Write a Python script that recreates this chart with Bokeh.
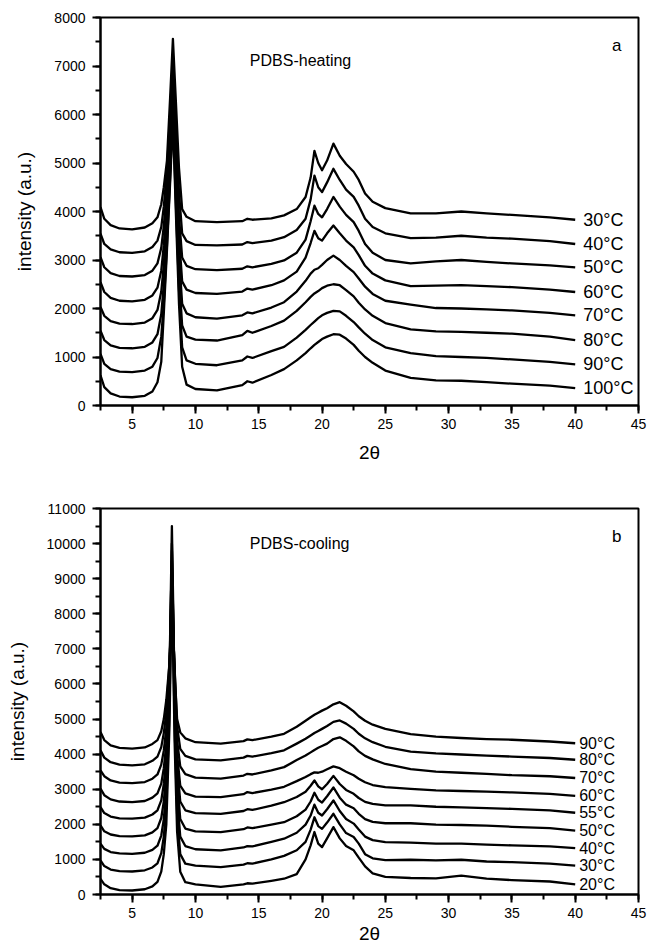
from bokeh.plotting import figure
from bokeh.layouts import column
from bokeh.models import Range1d, SingleIntervalTicker, Label
from bokeh.embed import file_html
from bokeh.resources import INLINE
from bokeh.core.properties import value

FONT = "Liberation Sans"

# ---------------- panel a: PDBS heating ----------------
TWO_THETA_HEAT = [2.5, 2.8, 3.3, 4.0, 5.0, 6.0, 6.6, 7.0, 7.3, 7.5, 7.75, 8.0, 8.22, 8.45, 8.7, 8.95,
                  9.3, 10.0, 11.7, 13.7, 14.1, 14.5, 16.0, 17.0, 18.0, 18.7, 19.1, 19.4, 19.7, 20.0,
                  20.4, 20.9, 21.4, 21.9, 22.5, 22.9, 23.4, 24.0, 25.0, 27.0, 29.0, 31.0, 33.0, 35.0,
                  38.0, 40.0]

HEAT_30C = [4090, 3850, 3720, 3650, 3630, 3670, 3760, 3880, 4150, 4500, 5050, 6350, 7560, 6300, 4900, 4050,
            3890, 3800, 3780, 3800, 3850, 3830, 3860, 3920, 4050, 4300, 4700, 5250, 5000, 4850,
            5050, 5400, 5150, 4980, 4820, 4650, 4370, 4200, 4070, 3960, 3960, 4000, 3960, 3930, 3880, 3830]
HEAT_40C = [3545, 3330, 3220, 3160, 3145, 3180, 3270, 3400, 3680, 4100, 4850, 6000, 7200, 5800, 4400, 3550,
            3390, 3310, 3300, 3320, 3370, 3350, 3400, 3470, 3620, 3850, 4250, 4740, 4500, 4400,
            4600, 4880, 4650, 4450, 4300, 4120, 3850, 3680, 3550, 3450, 3460, 3500, 3460, 3440, 3390, 3330]
HEAT_50C = [3060, 2850, 2730, 2670, 2660, 2690, 2780, 2930, 3250, 3700, 4500, 5700, 6900, 5400, 3900, 3050,
            2880, 2810, 2790, 2820, 2870, 2850, 2920, 2990, 3150, 3420, 3800, 4120, 3950, 3880,
            4050, 4300, 4100, 3930, 3780, 3600, 3330, 3150, 3000, 2930, 2970, 3000, 2960, 2930, 2890, 2850]
HEAT_60C = [2545, 2340, 2220, 2160, 2145, 2180, 2270, 2430, 2780, 3300, 4200, 5400, 6600, 5000, 3500, 2560,
            2390, 2320, 2300, 2350, 2410, 2390, 2480, 2580, 2760, 3050, 3350, 3600, 3450, 3400,
            3550, 3710, 3550, 3400, 3260, 3100, 2880, 2720, 2580, 2460, 2470, 2480, 2460, 2440, 2390, 2340]
HEAT_70C = [2030, 1850, 1740, 1690, 1680, 1710, 1800, 1970, 2350, 2900, 3900, 5100, 6400, 4700, 3100, 2100,
            1900, 1820, 1790, 1860, 1920, 1900, 2020, 2130, 2350, 2570, 2720, 2800, 2830, 2900,
            3000, 3090, 3000, 2880, 2750, 2620, 2450, 2300, 2160, 2080, 2010, 2000, 1980, 1960, 1910, 1860]
HEAT_80C = [1545, 1350, 1240, 1190, 1180, 1210, 1300, 1470, 1880, 2500, 3600, 4900, 6200, 4400, 2700, 1650,
            1420, 1360, 1340, 1450, 1540, 1500, 1640, 1750, 1950, 2130, 2240, 2310, 2360, 2420,
            2470, 2500, 2480, 2380, 2250, 2120, 1980, 1850, 1700, 1570, 1530, 1520, 1500, 1480, 1420, 1350]
HEAT_90C = [1065, 860, 750, 700, 690, 720, 800, 980, 1420, 2100, 3300, 4700, 6050, 4200, 2400, 1200,
            930, 860, 830, 930, 1010, 980, 1120, 1210, 1400, 1560, 1660, 1730, 1800, 1860,
            1910, 1950, 1940, 1850, 1720, 1610, 1480, 1350, 1200, 1080, 1020, 1000, 980, 950, 900, 850]
HEAT_100C = [620, 380, 250, 185, 170, 200, 290, 480, 900, 1900, 3200, 4600, 5900, 4000, 2100, 800,
             430, 340, 310, 420, 500, 470, 630, 750, 930, 1080, 1180, 1250, 1310, 1370,
             1420, 1470, 1460, 1380, 1250, 1130, 1000, 880, 720, 570, 520, 510, 480, 450, 410, 360]

HEAT_LABELS = ["30\u00b0C", "40\u00b0C", "50\u00b0C", "60\u00b0C", "70\u00b0C", "80\u00b0C", "90\u00b0C", "100\u00b0C"]
HEAT_CURVES = [HEAT_30C, HEAT_40C, HEAT_50C, HEAT_60C, HEAT_70C, HEAT_80C, HEAT_90C, HEAT_100C]

# ---------------- panel b: PDBS cooling ----------------
TWO_THETA_COOL = [2.5, 2.8, 3.3, 4.0, 5.0, 6.0, 6.6, 7.0, 7.3, 7.5, 7.7, 7.95, 8.14, 8.35, 8.55, 8.8,
                  9.2, 10.0, 12.0, 13.8, 14.1, 14.5, 16.0, 17.0, 18.0, 18.7, 19.1, 19.4, 19.7, 20.0,
                  20.4, 20.9, 21.4, 21.9, 22.5, 22.9, 23.4, 24.0, 25.0, 27.0, 29.0, 31.0, 33.0, 35.0,
                  38.0, 40.0]

COOL_90C = [4630, 4400, 4250, 4180, 4155, 4190, 4290, 4400, 4650, 5000, 5550, 6600, 7800, 6400, 5000, 4620,
            4450, 4340, 4300, 4370, 4420, 4400, 4500, 4580, 4780, 4950, 5050, 5120, 5180, 5240,
            5310, 5420, 5480, 5380, 5220, 5080, 4950, 4840, 4720, 4570, 4500, 4460, 4430, 4410, 4360, 4310]
COOL_80C = [4107, 3900, 3770, 3700, 3680, 3710, 3810, 3930, 4200, 4600, 5200, 6600, 8300, 6500, 4800, 4150,
            3950, 3850, 3820, 3900, 3950, 3930, 4030, 4110, 4300, 4440, 4530, 4600, 4660, 4720,
            4800, 4920, 4960, 4870, 4720, 4580, 4450, 4340, 4210, 4070, 4020, 3990, 3960, 3930, 3890, 3840]
COOL_70C = [3537, 3370, 3250, 3190, 3175, 3205, 3300, 3420, 3700, 4100, 4750, 6400, 8800, 6300, 4400, 3650,
            3430, 3330, 3300, 3390, 3440, 3420, 3540, 3630, 3830, 3960, 4050, 4120, 4180, 4230,
            4300, 4430, 4480, 4380, 4220, 4080, 3950, 3850, 3720, 3570, 3500, 3470, 3440, 3400, 3370, 3320]
COOL_60C = [3015, 2830, 2710, 2650, 2633, 2665, 2760, 2880, 3160, 3600, 4300, 6300, 9300, 6200, 4000, 3100,
            2880, 2790, 2775, 2860, 2920, 2890, 2990, 3070, 3230, 3350, 3430, 3480, 3470, 3500,
            3570, 3650, 3600, 3500, 3400, 3300, 3200, 3120, 3060, 3010, 2970, 2950, 2930, 2910, 2870, 2810]
COOL_55C = [2490, 2320, 2220, 2170, 2160, 2190, 2280, 2400, 2680, 3150, 3900, 6300, 9800, 6000, 3700, 2650,
            2400, 2320, 2300, 2380, 2430, 2410, 2530, 2630, 2780, 2930, 3100, 3250, 3080, 3000,
            3150, 3380, 3150, 2980, 2870, 2750, 2640, 2580, 2540, 2540, 2500, 2480, 2460, 2440, 2400, 2330]
COOL_50C = [1968, 1800, 1710, 1665, 1655, 1685, 1770, 1890, 2180, 2650, 3500, 6300, 10500, 5900, 3300, 2150,
            1880, 1800, 1780, 1860, 1910, 1890, 1990, 2060, 2230, 2420, 2650, 2900, 2700, 2620,
            2800, 3050, 2760, 2560, 2460, 2300, 2150, 2070, 2030, 2030, 1990, 1980, 1960, 1930, 1890, 1820]
COOL_40C = [1446, 1300, 1210, 1170, 1160, 1190, 1270, 1390, 1680, 2150, 3000, 5800, 10000, 5400, 2800, 1650,
            1380, 1290, 1260, 1340, 1380, 1370, 1500, 1590, 1760, 1990, 2250, 2560, 2330, 2250,
            2430, 2680, 2380, 2150, 2020, 1850, 1650, 1550, 1490, 1480, 1450, 1450, 1420, 1400, 1370, 1320]
COOL_30C = [970, 810, 710, 665, 656, 690, 770, 890, 1180, 1650, 2500, 5300, 9500, 4900, 2300, 1150,
            880, 820, 780, 850, 890, 880, 1000, 1100, 1260, 1500, 1850, 2200, 1950, 1870,
            2050, 2300, 2000, 1750, 1640, 1450, 1150, 1030, 980, 990, 970, 990, 940, 920, 880, 820]
COOL_20C = [448, 290, 180, 125, 114, 150, 230, 360, 650, 1150, 2000, 4800, 9000, 4400, 1800, 650,
            350, 290, 220, 290, 320, 310, 390, 450, 580, 1000, 1400, 1780, 1450, 1350,
            1600, 1920, 1600, 1380, 1260, 1050, 800, 600, 500, 470, 460, 540, 450, 410, 370, 290]

COOL_LABELS = ["90\u00b0C", "80\u00b0C", "70\u00b0C", "60\u00b0C", "55\u00b0C", "50\u00b0C", "40\u00b0C", "30\u00b0C", "20\u00b0C"]
COOL_CURVES = [COOL_90C, COOL_80C, COOL_70C, COOL_60C, COOL_55C, COOL_50C, COOL_40C, COOL_30C, COOL_20C]


def make_panel(xs, curves, labels, ymax, title_text, letter, title_y, letter_y,
               height, top, bottom, label_size, label_offset, xlabel_standoff):
    p = figure(width=647, height=height, output_backend="svg", toolbar_location=None,
               x_range=Range1d(2.5, 45), y_range=Range1d(0, ymax),
               min_border_left=100, min_border_right=9, min_border_top=top, min_border_bottom=bottom)
    p.xgrid.visible = False
    p.ygrid.visible = False
    p.outline_line_color = "black"
    p.outline_line_width = 2
    p.background_fill_color = "white"
    p.border_fill_color = "white"

    for ys in curves:
        p.line(xs, ys, line_color="black", line_width=2.3, line_join="round")

    p.text(x=[xs[-1]] * len(curves), y=[c[-1] for c in curves], text=labels,
           text_font=value(FONT), text_font_size=label_size, text_color="black",
           text_baseline="middle", text_align="left", x_offset=label_offset)

    p.add_layout(Label(x=14.3, y=title_y, text=title_text, text_font=FONT, text_font_size="16px",
                       text_baseline="middle", text_align="left", text_color="black"))
    p.add_layout(Label(x=42.9, y=letter_y, text=letter, text_font=FONT, text_font_size="17px",
                       text_baseline="middle", text_align="left", text_color="black"))

    p.xaxis.ticker = SingleIntervalTicker(interval=5, num_minor_ticks=2)
    p.yaxis.ticker = SingleIntervalTicker(interval=1000, num_minor_ticks=2)
    p.xaxis.axis_label = "2\u03b8"
    p.yaxis.axis_label = "intensity (a.u.)"
    for ax in (p.xaxis[0], p.yaxis[0]):
        ax.axis_line_width = 2
        ax.axis_line_color = "black"
        ax.major_tick_line_width = 2
        ax.minor_tick_line_width = 2
        ax.major_tick_in = 0
        ax.minor_tick_in = 0
        ax.major_tick_out = 8
        ax.minor_tick_out = 5
        ax.major_label_text_font = FONT
        ax.major_label_text_font_size = "14px"
        ax.major_label_text_color = "black"
        ax.axis_label_text_font = FONT
        ax.axis_label_text_font_style = "normal"
        ax.axis_label_text_color = "black"
    p.xaxis.major_label_standoff = 5
    p.yaxis.major_label_standoff = 7
    p.xaxis.axis_label_text_font_size = "19px"
    p.yaxis.axis_label_text_font_size = "19px"
    p.xaxis.axis_label_standoff = xlabel_standoff
    p.yaxis.axis_label_standoff = 16
    return p


p1 = make_panel(TWO_THETA_HEAT, HEAT_CURVES, HEAT_LABELS, 8000, "PDBS-heating", "a", 7113, 7423,
                470, 17, 65, "18px", 8, 10)
p2 = make_panel(TWO_THETA_COOL, COOL_CURVES, COOL_LABELS, 11000, "PDBS-cooling", "b", 10000, 10211,
                479, 38, 55, "16px", 4, 2)

layout = column(p1, p2, spacing=0)
open("out.html", "w").write(file_html(layout, INLINE))
